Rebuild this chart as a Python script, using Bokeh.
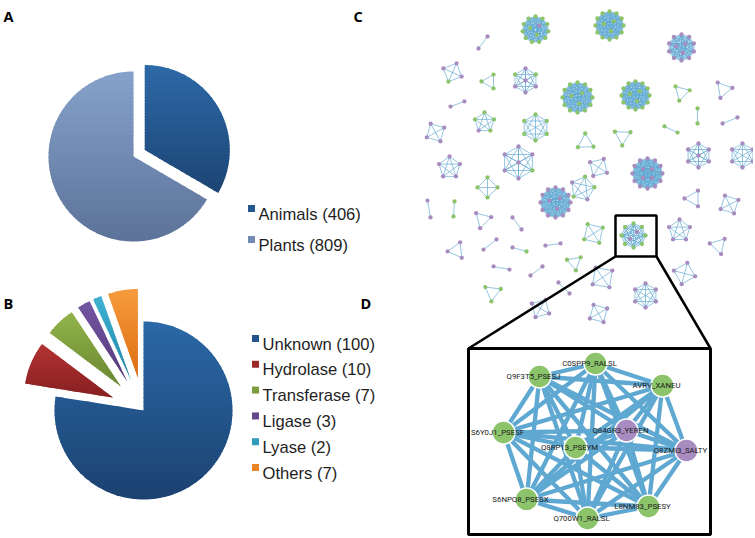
import math
from bokeh.plotting import figure
from bokeh.models import Range1d
from bokeh.core.properties import value
from bokeh.embed import file_html
from bokeh.resources import INLINE

# ---------------- data ----------------
A_LABELS = ["Animals (406)", "Plants (809)"]
A_VALUES = [406, 809]
A_TOP = ["#2d69a7", "#86a2cb"]
A_BOT = ["#1c4574", "#5c7298"]
A_EXPLODE = [13, 0]

B_LABELS = ["Unknown (100)", "Hydrolase (10)", "Transferase (7)", "Ligase (3)", "Lyase (2)", "Others (7)"]
B_VALUES = [100, 10, 7, 3, 2, 7]
B_TOP = ["#2b68a7", "#b33434", "#93b44c", "#7356a2", "#40b2d2", "#f69c3e"]
B_BOT = ["#1b4270", "#871f1f", "#6a872f", "#553a7a", "#1f86a6", "#de6c10"]
B_EXPLODE = [0, 33, 33, 33, 33, 33]

# network clusters of panel C: centre, radius, rotation, node kinds (p=purple, g=green)
CL_X = [535, 609, 681, 482.5, 452, 489, 525, 577, 635, 681, 723, 457, 484, 535, 435, 697, 729.5, 670.5,
        585, 622, 518, 449, 598, 647, 698, 742, 487, 555, 582, 428.5, 453.5, 482, 516.5, 693, 729, 593,
        633, 679, 456, 489.5, 519, 552.5, 718, 501, 536, 574, 602, 684, 492, 563.5, 645, 540, 598]
CL_Y = [29, 25, 47, 42, 72, 81, 80, 97, 95, 92, 89, 103.5, 122, 127, 132, 115.5, 120, 129,
        142, 136, 162, 167, 167, 173, 155, 155, 187, 202, 188, 208.5, 208.5, 219, 223, 198, 204, 233,
        235, 230, 250, 244, 249, 244, 245, 267.5, 270.5, 262, 277, 273, 292, 287.5, 295, 308, 313]
CL_R = [13, 14, 13, 7.5, 10, 8, 12, 15, 14, 8.5, 9, 7.4, 10, 13, 10, 7.5, 8, 7.2,
        9, 9, 16, 11, 10, 15, 12, 12, 10, 15, 12, 8.6, 7.5, 9, 7.5, 9, 10, 11,
        12, 11, 9, 8.2, 7.3, 7.6, 9, 8.1, 7.5, 8, 12, 11, 9, 7.8, 12, 10, 10]
CL_ROT = [-90, -90, -90, 127, -156, 180, -90, -90, -90, -135, -130, 160, -90, -90, -119, -90, 158, -155,
          148, -148, -90, -90, -148, -90, -90, -90, -90, -90, -150, -100, -86, -135, -127, 180, -117, -122,
          -90, -90, 174, 142, -164, 172, -167, -169, 143, -160, 145, -165, -143, -135, -90, -150, -120]
CL_NODES = ["gggggggggggpgg", "ggggggggggggggg", "ppppppppppppp", "pp", "pppg", "ggg", "pgpppgp",
            "ggggggggggggggg", "ggggggggggggggg", "ggg", "ppp", "pp", "gggpg", "gggggg", "pppp", "gg", "pp", "gg",
            "ggg", "ggg", "ppgpppp", "ppppp", "pppp", "pppppppppppppppp", "ppppppp", "pppppp", "gggg",
            "ppppppppppppppp", "pggpg", "pp", "gg", "ppp", "pp", "ppp", "pppp", "gggg",
            "ggggggggpp", "ppppp", "ppp", "pp", "pg", "pp", "ppp", "pp", "pp", "ggg", "pppp", "pppp", "ggg",
            "pp", "pppppp", "pppp", "pppp"]

# panel D: zoomed cluster
D_NAMES = ["C0SPP9_RALSL", "Q9F3T5_PSESJ", "AVRV_XANEU", "S6Y0J1_PSESF", "Q84GR3_YEREN",
           "Q8ZMI3_SALTY", "Q8RP13_PSEYM", "S6NPQ8_PSESX", "L8NM83_PSESY", "Q700W1_RALSL"]
D_X = [595, 539, 662, 503, 626, 686, 575, 526, 648, 587]
D_Y = [363, 376, 385, 432, 430, 450, 447, 499, 506, 518]
D_KIND = ["g", "g", "g", "g", "p", "p", "g", "g", "g", "g"]

PURPLE = "#a88bbf"
GREEN = "#8cc46c"
EDGE = "#5ea8d2"

W, H = 753, 536

# ---------------- helpers ----------------
def hex2rgb(h):
    h = h.lstrip("#")
    return [int(h[i:i + 2], 16) for i in (0, 2, 4)]

def mix(c1, c2, t):
    a, b = hex2rgb(c1), hex2rgb(c2)
    return "#%02x%02x%02x" % tuple(int(round(a[i] + (b[i] - a[i]) * t)) for i in range(3))

def wedge_poly(cx, cy, r, a0, a1, explode):
    mid = math.radians((a0 + a1) / 2)
    ox = cx + explode * math.sin(mid)
    oy = cy - explode * math.cos(mid)
    n = max(2, int(abs(a1 - a0)) + 1)
    pts = [(ox, oy)]
    for i in range(n + 1):
        a = math.radians(a0 + (a1 - a0) * i / n)
        pts.append((ox + r * math.sin(a), oy - r * math.cos(a)))
    return pts

def clip(poly, inside, cval):
    out = []
    for i in range(len(poly)):
        cur, prev = poly[i], poly[i - 1]
        def inter(p, q):
            t = (cval - p[1]) / (q[1] - p[1])
            return (p[0] + t * (q[0] - p[0]), cval)
        if inside(cur):
            if not inside(prev):
                out.append(inter(prev, cur))
            out.append(cur)
        elif inside(prev):
            out.append(inter(prev, cur))
    return out

def gradient_strips(poly, ctop, cbot, nstrip=40):
    ys = [p[1] for p in poly]
    y0, y1 = min(ys), max(ys)
    xs_out, ys_out, cols = [], [], []
    for k in range(nstrip):
        a = y0 + (y1 - y0) * k / nstrip
        b = min(y1, y0 + (y1 - y0) * (k + 1) / nstrip + 1.0)
        part = clip(poly, lambda p: p[1] >= a, a)
        if len(part) < 3:
            continue
        part = clip(part, lambda p: p[1] <= b, b)
        if len(part) < 3:
            continue
        xs_out.append([p[0] for p in part])
        ys_out.append([p[1] for p in part])
        cols.append(mix(ctop, cbot, (k + 0.5) / nstrip))
    return xs_out, ys_out, cols

def pie(p, cx, cy, r, values, tops, bots, explode):
    total = float(sum(values))
    start = 0.0
    for v, ct, cb, ex in zip(values, tops, bots, explode):
        end = start + 360.0 * v / total
        poly = wedge_poly(cx, cy, r, start, end, ex)
        xs, ys, cols = gradient_strips(poly, ct, cb)
        p.patches(xs, ys, fill_color=cols, line_color=None)
        start = end

# ---------------- figure ----------------
p = figure(width=W, height=H, x_range=Range1d(0, W), y_range=Range1d(H, 0),
           output_backend="svg", toolbar_location=None, min_border=0)
p.axis.visible = False
p.grid.visible = False
p.outline_line_color = None
p.background_fill_color = "white"
p.border_fill_color = "white"

FONT = value("Liberation Sans")

# panel A
pie(p, 133, 156, 85, A_VALUES, A_TOP, A_BOT, A_EXPLODE)
leg_y_a = [208 + 31 * i for i in range(len(A_LABELS))]
p.scatter([251] * len(A_LABELS), leg_y_a, marker="square", size=7,
          fill_color=[mix(t, b, 0.5) for t, b in zip(A_TOP, A_BOT)], line_color=None)
p.text([258] * len(A_LABELS), [y + 5.5 for y in leg_y_a], text=A_LABELS, text_font=FONT,
       text_font_size="16.6px", text_baseline="alphabetic", text_color="#1e1e1e")

# panel B
pie(p, 143, 410, 89, B_VALUES, B_TOP, B_BOT, B_EXPLODE)
leg_y_b = [338 + 25.8 * i for i in range(len(B_LABELS))]
p.scatter([255] * len(B_LABELS), leg_y_b, marker="square", size=7,
          fill_color=[mix(t, b, 0.5) for t, b in zip(B_TOP, B_BOT)], line_color=None)
p.text([262] * len(B_LABELS), [y + 5.5 for y in leg_y_b], text=B_LABELS, text_font=FONT,
       text_font_size="16.6px", text_baseline="alphabetic", text_color="#1e1e1e")

# panel C network
node_x, node_y, node_c = [], [], []
ex_xs, ex_ys = [], []
for cx, cy, r, rot, kinds in zip(CL_X, CL_Y, CL_R, CL_ROT, CL_NODES):
    n = len(kinds)
    n_in = n // 4 if n >= 7 else 0
    n_out = n - n_in
    pts = []
    for k in range(n_out):
        a = math.radians(rot + 360.0 * k / n_out)
        pts.append((cx + r * math.cos(a), cy + r * math.sin(a)))
    for k in range(n_in):
        if n_in == 1:
            pts.append((cx, cy))
        else:
            a = math.radians(rot + 45 + 360.0 * k / n_in)
            pts.append((cx + 0.42 * r * math.cos(a), cy + 0.42 * r * math.sin(a)))
    for i in range(n):
        for j in range(i + 1, n):
            ex_xs.append([pts[i][0], pts[j][0]])
            ex_ys.append([pts[i][1], pts[j][1]])
    for (x, y), kd in zip(pts, kinds):
        node_x.append(x)
        node_y.append(y)
        node_c.append(PURPLE if kd == "p" else GREEN)

p.multi_line(ex_xs, ex_ys, line_color=EDGE, line_width=0.7, line_alpha=0.95)
p.scatter(node_x, node_y, size=4.3, fill_color=node_c, line_color=None)

# highlight box and connectors
p.quad(left=[615], right=[656], top=[215], bottom=[256], fill_color=None, line_color="black", line_width=2.5)
p.multi_line([[615, 468], [656, 710]], [[256, 348], [256, 348]], line_color="black", line_width=2.5)

# panel D
p.quad(left=[468], right=[710], top=[348], bottom=[534], fill_color="white", line_color="black", line_width=3)
dxs, dys = [], []
for i in range(len(D_X)):
    for j in range(i + 1, len(D_X)):
        dxs.append([D_X[i], D_X[j]])
        dys.append([D_Y[i], D_Y[j]])
p.multi_line(dxs, dys, line_color=EDGE, line_width=4.3)
p.scatter(D_X, D_Y, size=23, fill_color=[PURPLE if k == "p" else GREEN for k in D_KIND],
          line_color="white", line_width=1.5)
p.text(D_X, D_Y, text=D_NAMES, x_offset=-6, text_font=value("Roboto"), text_font_size="7.8px",
       text_align="center", text_baseline="middle", text_color="#1a1a1a")

# panel letters
p.text([3, 353, 3, 360], [16, 16, 303, 303], text=["A", "C", "B", "D"], text_font=value("Open Sans"),
       text_font_style="bold", text_font_size="14.5px", text_baseline="alphabetic", text_color="black")

open("out.html", "w").write(file_html(p, INLINE))
